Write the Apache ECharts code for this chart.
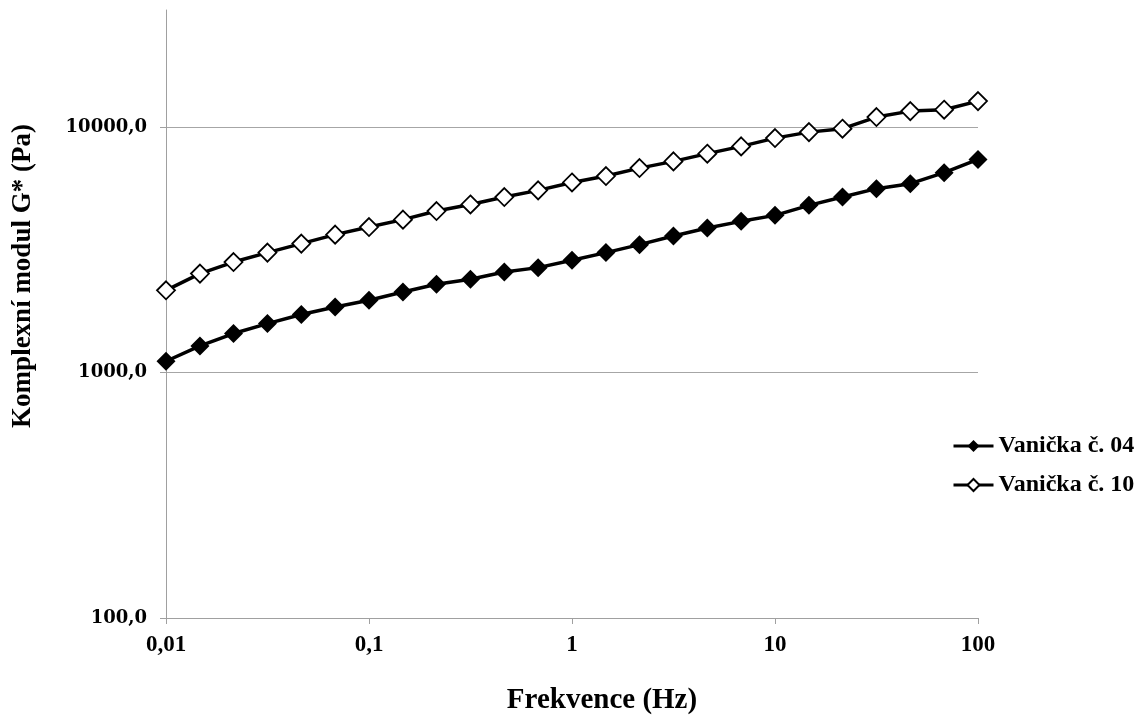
<!DOCTYPE html>
<html>
<head>
<meta charset="utf-8">
<script src="https://cdn.jsdelivr.net/npm/echarts@6/dist/echarts.min.js"></script>
<style>html,body{margin:0;padding:0;background:#fff;}#c{width:1144px;height:716px;}</style>
</head>
<body>
<div id="c"></div>
<script>
const freq = [0.01,0.0147,0.0215,0.0316,0.0464,0.0681,0.1,0.147,0.215,0.316,0.464,0.681,1,1.47,2.15,3.16,4.64,6.81,10,14.7,21.5,31.6,46.4,68.1,100];
const g04 = [1112,1284,1442,1583,1723,1850,1970,2129,2289,2398,2569,2676,2866,3081,3320,3599,3880,4131,4370,4799,5188,5613,5882,6523,7387];
const g10 = [2163,2530,2820,3081,3352,3647,3916,4198,4550,4842,5188,5524,5950,6318,6808,7250,7795,8346,9020,9541,9851,10985,11618,11773,12762];
const yTicks = [100,1000,10000];
const xTicks = [0.01,0.1,1,10,100];
const seriesNames = ['Vanička č. 04','Vanička č. 10'];
const xTitle = 'Frekvence (Hz)';
const yTitle = 'Komplexní modul G* (Pa)';

const serif = '"Liberation Serif","Times New Roman",serif';
const fmtX = v => String(Number(v.toPrecision(6))).replace('.', ',');
const fmtY = v => Number(v.toPrecision(6)).toFixed(1).replace('.', ',');

const chart = echarts.init(document.getElementById('c'), null, {renderer:'canvas'});
chart.setOption({
  animation:false,
  backgroundColor:'#fff',
  grid:{left:166,right:166,top:10,bottom:98,containLabel:false,outerBoundsMode:'none'},
  legend:{
    orient:'vertical', left:947, top:429, itemWidth:40, itemHeight:15, itemGap:15,
    lineStyle:{width:3,color:'#000'},
    textStyle:{fontFamily:serif,fontWeight:'bold',fontSize:24,color:'#000'},
    data:seriesNames
  },
  xAxis:{
    type:'log', logBase:10, min:0.01, max:100,
    name:xTitle, nameLocation:'middle', nameGap:68,
    nameTextStyle:{fontFamily:serif,fontWeight:'bold',fontSize:29,color:'#000',padding:[0,0,0,60]},
    axisLine:{show:true,lineStyle:{color:'#a0a0a0',width:1}},
    axisTick:{show:true,inside:false,length:6,lineStyle:{color:'#a0a0a0'}},
    splitLine:{show:false},
    minorTick:{show:false},
    axisLabel:{fontFamily:serif,fontWeight:'bold',fontSize:23,color:'#000',margin:16,formatter:fmtX,showMinLabel:true,showMaxLabel:true}
  },
  yAxis:{
    type:'log', logBase:10, min:100, max:30000,
    name:yTitle, nameLocation:'middle', nameRotate:90, nameGap:129,
    nameTextStyle:{fontFamily:serif,fontWeight:'bold',fontSize:27,color:'#000',padding:[0,0,0,76]},
    axisLine:{show:true,lineStyle:{color:'#a0a0a0',width:1}},
    axisTick:{show:true,inside:false,length:6,lineStyle:{color:'#a0a0a0'},customValues:yTicks},
    splitLine:{show:true,lineStyle:{color:'#a6a6a6',width:1}},
    axisLabel:{fontFamily:'"DejaVu Serif",serif',fontWeight:'bold',fontSize:18,color:'#000',margin:19,formatter:fmtY,customValues:yTicks}
  },
  series:[
    {
      name:seriesNames[0], type:'line', data:freq.map((f,i)=>[f,g04[i]]),
      symbol:'diamond', symbolSize:19, showAllSymbol:true,
      lineStyle:{color:'#000',width:3.5},
      itemStyle:{color:'#000',borderColor:'#000',borderWidth:0}
    },
    {
      name:seriesNames[1], type:'line', data:freq.map((f,i)=>[f,g10[i]]),
      symbol:'diamond', symbolSize:18, showAllSymbol:true,
      lineStyle:{color:'#000',width:3.5},
      itemStyle:{color:'#fff',borderColor:'#000',borderWidth:1.8}
    }
  ]
});
</script>
</body>
</html>
